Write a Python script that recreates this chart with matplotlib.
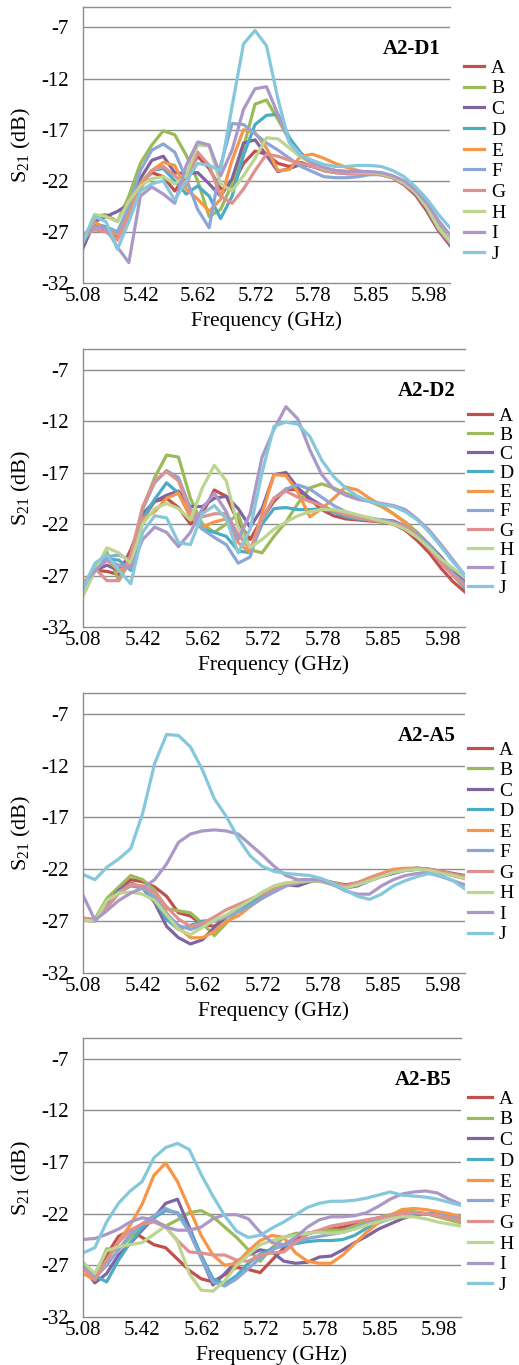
import numpy as np
import matplotlib
matplotlib.use("Agg")
import matplotlib.pyplot as plt

# ---------------- data ----------------
series_names = ["A", "B", "C", "D", "E", "F", "G", "H", "I", "J"]
freq_tick_labels = ["5.08", "5.42", "5.62", "5.72", "5.78", "5.85", "5.98"]
y_ticks = [-32, -27, -22, -17, -12, -7]
panel_titles = ["A2-D1", "A2-D2", "A2-A5", "A2-B5"]

# Panel 1: A2-D1
p1_A = [-27.5, -26.3, -26.8, -27.4, -25.0, -22.3, -21.2, -21.6, -23.0, -21.5, -19.6, -20.8, -22.8, -22.5, -20.3, -19.1, -19.4, -20.3, -20.6,
        -20.2, -20.6, -21.0, -21.2, -21.3, -21.3, -21.3, -21.4, -21.7, -22.4, -23.4, -25.0, -26.9, -28.3]
p1_B = [-28.0, -25.5, -25.3, -26.0, -23.5, -20.3, -18.5, -17.1, -17.5, -19.5, -22.0, -25.5, -24.8, -22.3, -18.7, -14.5, -14.1, -16.0, -18.0,
        -19.3, -20.2, -20.8, -21.0, -21.1, -21.2, -21.2, -21.3, -21.6, -22.2, -23.1, -24.5, -26.4, -27.9]
p1_C = [-28.6, -26.0, -25.5, -25.0, -24.3, -21.8, -20.0, -19.6, -21.2, -21.3, -21.2, -22.3, -23.5, -21.8, -18.3, -18.0, -19.5, -21.1, -20.8,
        -20.4, -20.6, -20.9, -21.1, -21.2, -21.2, -21.2, -21.3, -21.6, -22.3, -23.3, -24.8, -26.8, -28.3]
p1_D = [-28.0, -26.2, -26.5, -27.0, -24.8, -22.3, -21.0, -20.8, -22.0, -23.3, -22.5, -23.5, -25.7, -23.5, -19.5, -16.5, -15.6, -15.5, -17.8,
        -19.3, -20.3, -20.8, -21.0, -21.1, -21.2, -21.2, -21.3, -21.6, -22.2, -23.1, -24.5, -26.4, -27.9]
p1_E = [-27.8, -26.0, -26.8, -27.3, -25.0, -22.3, -21.0, -20.2, -20.5, -22.8, -23.8, -25.0, -23.8, -20.0, -17.0, -17.3, -18.8, -21.0, -20.9,
        -19.6, -19.4, -19.8, -20.3, -20.7, -21.0, -21.2, -21.3, -21.6, -22.2, -23.1, -24.6, -26.5, -28.0]
p1_F = [-27.8, -26.5, -26.6, -27.0, -24.5, -21.0, -19.0, -18.4, -19.2, -21.8, -24.8, -26.6, -20.5, -16.4, -16.5, -17.4, -18.3, -19.0, -19.8,
        -20.6, -21.1, -21.6, -21.7, -21.7, -21.6, -21.4, -21.4, -21.6, -22.3, -23.2, -24.6, -26.6, -28.0]
p1_G = [-27.4, -26.8, -27.0, -27.8, -25.5, -22.8, -21.0, -20.6, -21.5, -22.5, -19.2, -20.5, -23.5, -24.2, -22.8, -21.0, -19.4, -19.6, -20.0,
        -20.3, -20.6, -21.0, -21.2, -21.3, -21.3, -21.3, -21.4, -21.7, -22.3, -23.2, -24.7, -26.7, -28.1]
p1_H = [-28.0, -25.3, -25.5, -26.0, -24.0, -22.5, -21.8, -21.6, -22.3, -21.5, -18.5, -18.6, -22.3, -23.0, -21.5, -19.8, -17.8, -17.9, -18.8,
        -19.7, -20.3, -20.8, -21.0, -21.1, -21.2, -21.2, -21.3, -21.6, -22.2, -23.1, -24.6, -26.6, -27.9]
p1_I = [-27.3, -26.5, -26.6, -28.5, -30.0, -23.5, -22.6, -23.3, -24.2, -20.5, -18.2, -18.5, -21.5, -19.0, -15.0, -13.0, -12.8, -15.5, -18.2,
        -19.5, -20.3, -20.7, -21.0, -21.1, -21.1, -21.1, -21.2, -21.5, -22.0, -22.9, -24.2, -25.9, -27.3]
p1_J = [-27.8, -25.5, -26.0, -28.7, -26.0, -23.0, -22.3, -22.0, -23.9, -22.0, -20.3, -20.5, -21.0, -14.7, -8.6, -7.3, -8.8, -14.0, -18.3,
        -19.5, -20.0, -20.4, -20.6, -20.6, -20.5, -20.5, -20.6, -21.0, -21.6, -22.6, -23.8, -25.3, -26.6]

# Panel 2: A2-D2
p2_A = [-28.1, -26.5, -26.6, -26.9, -24.5, -21.5, -19.8, -19.5, -20.4, -22.0, -21.0, -18.7, -19.3, -21.8, -23.5, -21.5, -19.8, -18.6, -18.7,
        -19.6, -20.6, -21.2, -21.5, -21.6, -21.7, -21.8, -22.0, -22.6, -23.6, -24.8, -26.3, -27.6, -28.6]
p2_B = [-28.9, -26.5, -24.7, -27.5, -25.5, -20.5, -17.5, -15.3, -15.5, -19.5, -22.0, -22.8, -22.0, -21.0, -24.5, -24.8, -23.2, -21.8, -20.0,
        -18.5, -18.1, -18.5, -19.0, -19.5, -19.8, -20.3, -21.0, -21.8, -22.8, -24.0, -25.3, -26.6, -27.8]
p2_C = [-28.7, -26.5, -26.0, -26.5, -25.0, -21.0, -19.8, -19.2, -18.8, -20.3, -20.3, -19.5, -19.3, -20.5, -22.3, -20.5, -17.2, -17.0, -18.5,
        -19.5, -20.2, -20.8, -21.2, -21.5, -21.6, -21.6, -21.7, -22.2, -23.0, -24.0, -25.2, -26.6, -27.6]
p2_D = [-28.6, -26.3, -25.4, -25.5, -26.5, -21.5, -19.6, -18.0, -19.0, -21.3, -22.5, -22.8, -23.2, -24.6, -24.8, -22.0, -20.5, -20.4, -20.6,
        -20.6, -20.5, -20.8, -21.3, -21.5, -21.6, -21.7, -21.9, -22.3, -23.2, -24.3, -25.7, -27.0, -28.2]
p2_E = [-27.8, -26.3, -25.5, -26.5, -26.0, -21.5, -20.8, -19.5, -19.0, -21.3, -22.3, -21.8, -21.5, -23.8, -24.8, -21.0, -17.2, -17.3, -18.9,
        -21.3, -20.5, -19.5, -18.4, -18.7, -19.5, -20.2, -21.0, -21.9, -23.0, -24.3, -25.7, -27.0, -28.0]
p2_F = [-28.3, -26.0, -25.2, -25.0, -25.5, -20.5, -18.0, -16.8, -17.5, -20.5, -22.5, -23.3, -24.0, -25.8, -25.2, -21.5, -19.5, -18.6, -18.2,
        -18.6, -19.4, -20.2, -20.8, -21.2, -21.4, -21.6, -21.8, -22.2, -23.0, -24.0, -25.4, -26.8, -27.8]
p2_G = [-27.8, -26.3, -27.5, -27.5, -25.0, -20.3, -17.8, -16.9, -17.8, -20.8, -21.3, -21.0, -21.0, -23.0, -24.5, -21.5, -19.5, -18.8, -19.4,
        -19.8, -20.2, -20.7, -21.1, -21.4, -21.6, -21.8, -21.9, -22.3, -23.2, -24.4, -25.8, -27.0, -28.0]
p2_H = [-29.0, -26.5, -24.3, -24.8, -25.8, -22.0, -20.5, -20.0, -20.5, -21.6, -18.5, -16.3, -17.8, -22.3, -24.3, -23.5, -22.5, -21.8, -21.2,
        -20.8, -20.6, -20.6, -20.8, -21.1, -21.4, -21.7, -22.0, -22.5, -23.3, -24.3, -25.4, -26.3, -27.2]
p2_I = [-28.0, -26.5, -25.5, -26.0, -26.3, -23.5, -22.3, -22.8, -24.2, -22.8, -20.5, -19.0, -20.8, -23.5, -21.0, -15.5, -12.8, -10.6, -11.8,
        -14.8, -17.2, -18.6, -19.2, -19.6, -19.8, -20.0, -20.2, -20.6, -21.5, -22.6, -24.0, -25.5, -27.0]
p2_J = [-28.3, -25.8, -25.0, -26.5, -27.8, -22.8, -21.2, -21.4, -23.8, -24.0, -21.0, -20.2, -21.5, -24.8, -22.5, -17.0, -12.5, -12.1, -12.3,
        -13.5, -15.8, -17.4, -18.5, -19.3, -19.8, -20.1, -20.3, -20.8, -21.6, -22.8, -24.2, -25.7, -27.0]

# Panel 3: A2-A5
p3_A = [-26.7, -26.9, -25.3, -23.8, -23.0, -23.2, -23.7, -24.6, -26.2, -26.5, -27.3, -27.5, -26.6, -25.9, -25.2, -24.5, -24.0, -23.5, -23.1,
        -23.0, -23.0, -23.3, -23.5, -23.3, -22.9, -22.6, -22.3, -22.0, -21.9, -22.0, -22.2, -22.4, -22.6]
p3_B = [-26.8, -26.8, -24.8, -23.7, -22.6, -23.0, -24.0, -25.8, -26.0, -26.2, -27.2, -28.4, -27.2, -26.0, -24.9, -24.4, -23.7, -23.4, -23.2,
        -23.0, -23.1, -23.3, -23.6, -23.3, -22.9, -22.6, -22.2, -22.0, -22.0, -22.1, -22.3, -22.5, -22.8]
p3_C = [-26.9, -27.0, -25.5, -24.0, -23.3, -23.8, -25.2, -27.5, -28.6, -29.2, -28.8, -27.6, -26.6, -25.8, -25.0, -24.5, -23.9, -23.5, -23.6,
        -23.2, -23.1, -23.4, -23.8, -23.6, -23.1, -22.7, -22.4, -22.1, -22.0, -22.1, -22.3, -22.6, -22.9]
p3_D = [-26.8, -26.9, -25.3, -24.2, -23.6, -23.8, -25.0, -26.8, -27.8, -27.4, -27.0, -26.9, -26.6, -25.9, -25.2, -24.6, -24.0, -23.5, -23.3,
        -23.1, -23.1, -23.4, -23.7, -23.4, -23.0, -22.6, -22.3, -22.0, -21.9, -22.0, -22.2, -22.5, -22.7]
p3_E = [-26.7, -26.9, -25.6, -24.3, -23.4, -23.7, -24.6, -26.2, -27.6, -28.6, -28.6, -28.0, -27.0, -26.5, -25.6, -24.8, -24.1, -23.6, -23.3,
        -23.1, -23.2, -23.5, -23.7, -23.3, -22.8, -22.4, -22.0, -21.9, -21.9, -22.0, -22.3, -22.5, -22.7]
p3_F = [-26.8, -26.9, -25.6, -24.2, -23.5, -23.7, -24.7, -26.3, -27.4, -27.8, -27.4, -27.0, -26.6, -26.1, -25.5, -24.8, -24.2, -23.6, -23.3,
        -23.1, -23.1, -23.4, -23.7, -23.4, -23.0, -22.6, -22.3, -22.1, -22.0, -22.1, -22.3, -22.5, -22.8]
p3_G = [-26.8, -26.9, -25.7, -24.3, -23.5, -23.6, -24.2, -25.6, -26.8, -27.5, -27.2, -26.6, -25.9, -25.4, -24.9, -24.4, -23.8, -23.4, -23.2,
        -23.0, -23.1, -23.4, -23.6, -23.3, -22.9, -22.5, -22.2, -22.0, -21.9, -22.0, -22.2, -22.5, -22.7]
p3_H = [-26.9, -27.0, -25.0, -24.3, -24.2, -24.4, -25.0, -26.4, -27.8, -28.3, -27.6, -26.9, -26.4, -25.7, -25.0, -24.2, -23.6, -23.3, -23.2,
        -23.1, -23.2, -23.5, -23.8, -23.5, -23.1, -22.7, -22.3, -22.1, -22.0, -22.1, -22.4, -22.6, -22.9]
p3_I = [-24.5, -26.9, -26.0, -25.0, -24.3, -23.8, -23.0, -21.5, -19.4, -18.6, -18.3, -18.2, -18.3, -18.6, -19.6, -20.6, -21.7, -22.6, -23.0,
        -23.0, -23.1, -23.5, -24.1, -24.4, -24.4, -23.6, -23.0, -22.6, -22.4, -22.4, -22.7, -23.1, -23.5]
p3_J = [-22.5, -23.0, -21.8, -21.0, -20.0, -16.6, -11.8, -9.0, -9.1, -10.2, -12.4, -15.2, -16.9, -19.0, -20.7, -21.7, -22.2, -22.4, -22.5,
        -22.6, -22.9, -23.4, -24.0, -24.6, -24.9, -24.4, -23.6, -23.1, -22.7, -22.4, -22.6, -23.1, -23.9]

# Panel 4: A2-B5
p4_A = [-27.1, -27.8, -26.0, -24.2, -23.6, -24.3, -25.0, -25.3, -26.4, -27.5, -28.3, -28.6, -27.9, -27.2, -27.4, -27.7, -26.5, -25.3, -24.4,
        -23.9, -23.7, -23.5, -23.3, -23.0, -22.7, -22.4, -22.2, -22.0, -21.9, -22.0, -22.1, -22.3, -22.5]
p4_B = [-27.3, -28.1, -25.4, -25.5, -24.3, -23.0, -22.7, -23.2, -22.6, -21.9, -21.7, -22.3, -23.3, -24.3, -25.5, -26.6, -25.3, -24.3, -23.9,
        -23.9, -23.7, -23.6, -23.6, -23.2, -22.8, -22.4, -22.1, -21.8, -21.8, -22.0, -22.3, -22.6, -22.9]
p4_C = [-27.1, -28.7, -27.8, -26.0, -24.9, -23.6, -22.4, -21.0, -20.6, -23.3, -26.2, -28.9, -27.8, -26.6, -26.0, -25.5, -25.7, -26.6, -26.8,
        -26.7, -26.2, -26.1, -25.5, -24.8, -24.2, -23.5, -23.0, -22.5, -22.1, -22.0, -22.0, -22.2, -22.5]
p4_D = [-26.8, -28.0, -28.6, -26.5, -24.8, -23.4, -22.4, -21.7, -21.9, -23.5, -26.0, -28.3, -28.8, -28.0, -26.8, -25.9, -25.4, -25.1, -24.9,
        -24.7, -24.6, -24.6, -24.5, -24.1, -23.4, -22.9, -22.5, -22.2, -22.0, -22.0, -22.1, -22.3, -22.6]
p4_E = [-27.8, -28.4, -26.6, -24.7, -23.1, -21.1, -18.3, -17.1, -18.9, -21.5, -24.1, -26.0, -27.0, -26.8, -25.6, -24.6, -24.1, -24.3, -25.8,
        -26.6, -26.8, -26.8, -26.0, -24.9, -23.8, -22.9, -22.2, -21.6, -21.5, -21.6, -21.8, -22.0, -22.3]
p4_F = [-27.2, -28.2, -27.0, -25.5, -24.0, -23.0, -22.2, -21.5, -22.0, -23.8, -26.3, -28.6, -29.0, -28.3, -27.3, -26.3, -25.5, -25.0, -24.7,
        -24.4, -24.2, -24.0, -23.8, -23.4, -23.0, -22.6, -22.3, -22.0, -21.9, -22.0, -22.1, -22.3, -22.5]
p4_G = [-27.3, -28.4, -26.5, -24.8, -23.6, -23.0, -22.8, -23.3, -24.6, -25.7, -25.8, -26.0, -26.0, -26.5, -26.6, -26.0, -25.8, -25.7, -24.8,
        -24.0, -23.6, -23.2, -23.0, -22.8, -22.6, -22.4, -22.2, -22.0, -21.9, -22.0, -22.2, -22.4, -22.7]
p4_H = [-26.7, -27.8, -25.6, -25.2, -25.0, -24.8, -24.0, -23.2, -24.7, -27.8, -29.4, -29.5, -28.5, -27.0, -26.0, -25.0, -24.6, -24.3, -24.1,
        -23.9, -23.8, -23.9, -23.8, -23.5, -23.1, -22.8, -22.5, -22.3, -22.3, -22.5, -22.8, -23.0, -23.2]
p4_I = [-24.5, -24.4, -24.0, -23.5, -22.8, -22.4, -22.6, -23.3, -23.6, -23.6, -23.3, -22.5, -22.1, -22.1, -22.5, -23.8, -24.8, -25.0, -24.3,
        -23.3, -22.6, -22.3, -22.3, -22.2, -21.9, -21.3, -20.6, -20.1, -19.9, -19.8, -20.0, -20.6, -21.1]
p4_J = [-25.8, -25.3, -22.8, -21.0, -19.8, -18.9, -16.6, -15.6, -15.2, -15.8, -18.2, -20.3, -22.2, -23.7, -24.3, -24.1, -23.4, -22.8, -22.1,
        -21.4, -21.0, -20.8, -20.8, -20.7, -20.5, -20.2, -19.9, -20.2, -20.3, -20.4, -20.6, -20.9, -21.2]

panel1 = [p1_A, p1_B, p1_C, p1_D, p1_E, p1_F, p1_G, p1_H, p1_I, p1_J]
panel2 = [p2_A, p2_B, p2_C, p2_D, p2_E, p2_F, p2_G, p2_H, p2_I, p2_J]
panel3 = [p3_A, p3_B, p3_C, p3_D, p3_E, p3_F, p3_G, p3_H, p3_I, p3_J]
panel4 = [p4_A, p4_B, p4_C, p4_D, p4_E, p4_F, p4_G, p4_H, p4_I, p4_J]

# ---------------- style ----------------
colors = ["#C0504D", "#9BBB59", "#8064A2", "#4BACC6", "#F79646",
          "#8BA7D6", "#DE918E", "#BCD58F", "#AB98C8", "#85C8DC"]
SERIF = "Liberation Serif"
plt.rcParams["font.family"] = SERIF
plt.rcParams["mathtext.fontset"] = "custom"
plt.rcParams["mathtext.rm"] = SERIF
plt.rcParams["mathtext.it"] = SERIF
grid_color = "#8E8E8E"

W, H = 519, 1365
fig = plt.figure(figsize=(W / 100, H / 100), dpi=100)

# pixel geometry: left, right, top(y=-5), bottom(y=-32); legend anchor x px, first-row centre y px,
# handle length (em), label spacing (em)
geoms = [
    (83, 450, 7, 283, 464, 68, 1.05, 0.16),
    (83, 465, 349, 627, 468, 416, 1.25, 0.08),
    (83, 465, 693, 973, 468, 750, 1.25, 0.15),
    (83, 461, 1038, 1317, 468, 1099, 1.25, 0.16),
]
panels = [panel1, panel2, panel3, panel4]
FS_TICK = 15
FS_LEG = 14

for pdata, title, (l, r, t, b, lx, ly, hl, ls) in zip(panels, panel_titles, geoms):
    ax = fig.add_axes([l / W, 1 - b / H, (r - l) / W, (b - t) / H])
    n = len(pdata[0])
    x = np.linspace(0, len(freq_tick_labels) - 1 + 0.37, n)
    for vals, name, c in zip(pdata, series_names, colors):
        ax.plot(x, vals, color=c, lw=2.3, label=name, solid_joinstyle="round")
    ax.set_xlim(x[0], x[-1])
    ax.set_ylim(-32, -5)
    ax.set_yticks(y_ticks)
    ax.set_yticklabels([str(v) for v in y_ticks])
    ax.set_xticks(range(len(freq_tick_labels)))
    ax.set_xticklabels(freq_tick_labels)
    for v in y_ticks[1:]:
        ax.axhline(v, color=grid_color, lw=1.0, zorder=0)
    ax.tick_params(axis="both", length=0, labelsize=FS_TICK)
    ax.tick_params(axis="y", pad=10)
    ax.tick_params(axis="x", pad=3)
    for s in ["left", "bottom", "top"]:
        ax.spines[s].set_color(grid_color)
        ax.spines[s].set_linewidth(1.0)
    ax.spines["right"].set_visible(False)
    ax.set_xlabel("Frequency (GHz)", fontsize=15.5, labelpad=4)
    ax.set_ylabel(r"S$_{21}$ (dB)", fontsize=16, labelpad=6)
    ax.text(0.975, 0.848, title, transform=ax.transAxes, ha="right", va="center",
            fontsize=15, fontweight="bold")
    row_half = 0.5 * FS_LEG * 100 / 72 * 0.92
    ax.legend(loc="upper left", bbox_to_anchor=((lx - l) / (r - l), (b - (ly - row_half)) / (b - t)),
              frameon=False, fontsize=FS_LEG, borderpad=0, borderaxespad=0,
              handlelength=hl, handletextpad=0.35, labelspacing=ls)

fig.savefig("out.png", dpi=100)
